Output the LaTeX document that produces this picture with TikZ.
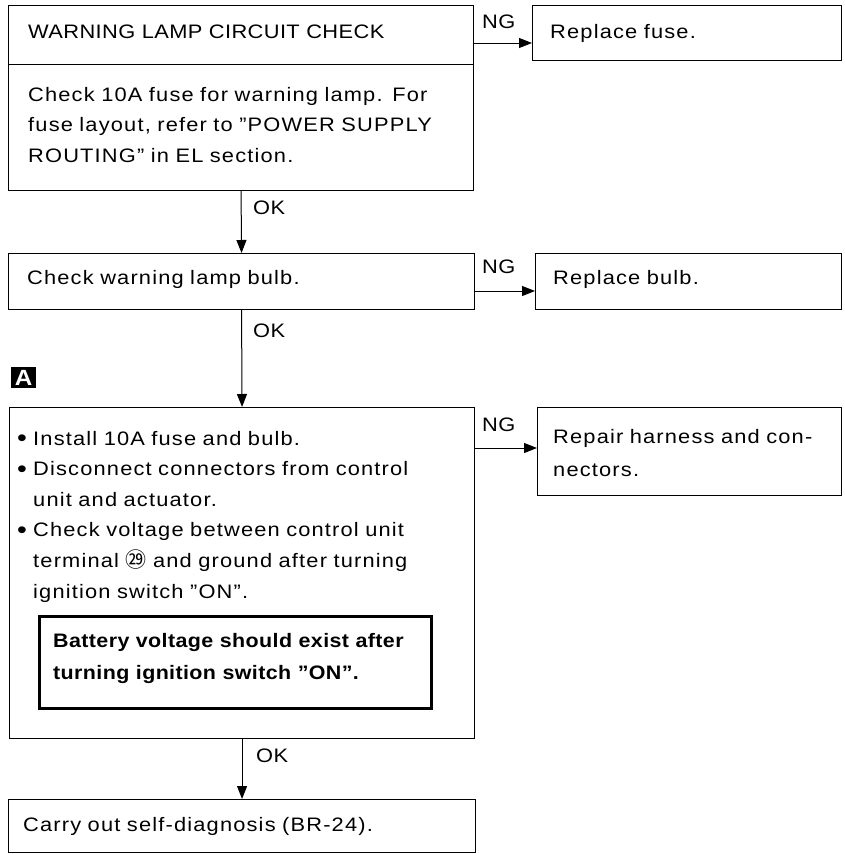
\documentclass[tikz,border=0pt]{standalone}
\usepackage{fontspec}
\setmainfont{Liberation Sans}[FakeStretch=1.12,LetterSpace=6,BoldFeatures={FakeStretch=1.1,LetterSpace=2}]
\newfontfamily\titlefont{Liberation Sans}[FakeStretch=1.12,LetterSpace=2]
\newfontfamily\cjkfont{Noto Sans CJK SC}
\usetikzlibrary{arrows.meta}
\newcommand{\bul}{\makebox[16pt][l]{\raisebox{-1.5pt}{\fontsize{25}{25}\selectfont\textbullet}}}
\begin{document}
\begin{tikzpicture}[x=1pt,y=-1pt,
  box/.style={draw, line width=1.1pt, rectangle, anchor=north west, inner sep=0pt},
  txt/.style={anchor=base west, inner sep=0pt, align=left, text width=440pt,
              font=\fontsize{19.5}{30.6}\selectfont},
  lbl/.style={anchor=base west, inner sep=0pt, font=\titlefont\fontsize{19.5}{23}\selectfont},
  arr/.style={line width=1pt, -{Triangle[length=13pt,width=10pt]}}
]
\useasboundingbox (0,0) rectangle (844,854);

% boxes
\node[box, minimum width=465pt, minimum height=59pt]  (t1) at (8,5) {};
\node[box, minimum width=465pt, minimum height=126pt] (b1) at (8,64) {};
\node[box, minimum width=309pt, minimum height=55pt]  (rf) at (532,5) {};
\node[box, minimum width=466pt, minimum height=56pt]  (b2) at (8,253) {};
\node[box, minimum width=306pt, minimum height=56pt]  (rb) at (535,253) {};
\node[box, minimum width=465pt, minimum height=331pt] (b3) at (9,407) {};
\node[box, minimum width=304pt, minimum height=88pt]  (rh) at (537,407) {};
\node[box, line width=2.6pt, minimum width=392pt, minimum height=92pt] (warn) at (38,615) {};
\node[box, minimum width=467pt, minimum height=53pt]  (b4) at (8,799) {};

% texts
\node[txt, font=\titlefont\fontsize{19.5}{30.6}\selectfont] (t1txt) at (28,38.5) {WARNING LAMP CIRCUIT CHECK};
\node[txt] (b1txt) at (28,101) {Check 10A fuse for warning lamp. For\\
fuse layout, refer to ''POWER SUPPLY\\
ROUTING'' in EL section.};
\node[txt, text width=280pt] (rftxt) at (550,38) {Replace fuse.};
\node[txt] (b2txt) at (27,284) {Check warning lamp bulb.};
\node[txt, text width=280pt] (rbtxt) at (553,284) {Replace bulb.};
\node[txt] (b3txt) at (17,445) {\bul Install 10A fuse and bulb.\\
\bul Disconnect connectors from control\\
\hspace*{16pt}unit and actuator.\\
\bul Check voltage between control unit\\
\hspace*{16pt}terminal {\cjkfont\fontsize{21}{21}\selectfont ㉙} and ground after turning\\
\hspace*{16pt}ignition switch ''ON''.};
\node[txt, text width=370pt, font=\fontsize{19.5}{32}\selectfont\bfseries] (warntxt) at (53,647)
  {Battery voltage should exist after\\ turning ignition switch ''ON''.};
\node[txt, text width=285pt, font=\fontsize{19.5}{33}\selectfont] (rhtxt) at (553,443) {Repair harness and con-\\nectors.};
\node[txt] (b4txt) at (23,831) {Carry out self-diagnosis (BR-24).};

% marker A
\node[fill=black, text=white, minimum width=25pt, minimum height=21pt, inner sep=0pt,
      font=\fontsize{22}{22}\selectfont\bfseries] (amark) at (23.5,377.5) {A};

% connectors
\draw[arr] (b1.south) -- (b2.north);
\draw[arr] (b2.south) -- (b3.north);
\draw[arr] (b3.south) -- (b4.north);
\draw[arr] ([yshift=-38pt]t1.north east) -- ([yshift=-38pt]rf.north west);
\draw[arr] ([yshift=-38pt]b2.north east) -- ([yshift=-38pt]rb.north west);
\draw[arr] ([yshift=-41pt]b3.north east) -- ([yshift=-41pt]rh.north west);

% labels
\node[lbl] (ng1) at (482,28) {NG};
\node[lbl] (ng2) at (482,273) {NG};
\node[lbl] (ng3) at (482,431) {NG};
\node[lbl] (ok1) at (253,214) {OK};
\node[lbl] (ok2) at (253,337) {OK};
\node[lbl] (ok3) at (256,762) {OK};
\end{tikzpicture}
\end{document}
